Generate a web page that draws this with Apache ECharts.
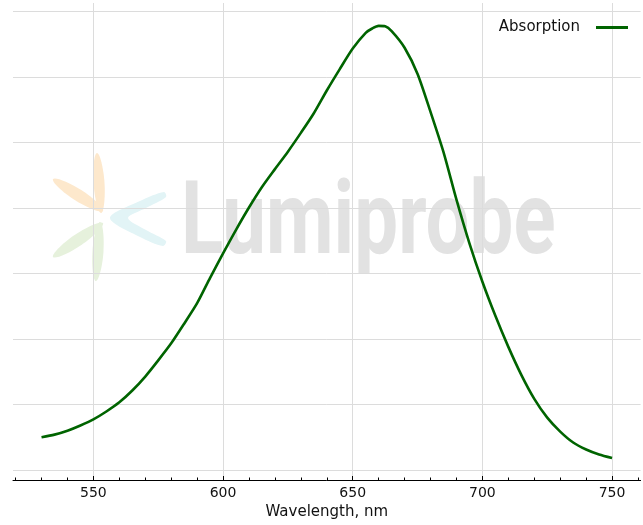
<!DOCTYPE html>
<html>
<head>
<meta charset="utf-8">
<script src="https://cdn.jsdelivr.net/npm/echarts@6/dist/echarts.min.js"></script>
<style>
html,body{margin:0;padding:0;background:#fff;}
#c{width:643px;height:525px;}
</style>
</head>
<body>
<div id="c"></div>
<script>
// Wavelength (nm)
const wavelengths = [530,535,540,545,550,555,560,565,570,575,580,585,590,595,600,605,610,615,620,625,630,635,640,645,650,655,657.5,660,662.5,665,670,675,680,685,690,695,700,705,710,715,720,725,730,735,740,745,750];
// Absorption (relative)
const absorption = [0.075,0.081,0.090,0.102,0.116,0.134,0.155,0.182,0.214,0.251,0.290,0.335,0.382,0.440,0.496,0.550,0.601,0.648,0.689,0.729,0.772,0.817,0.869,0.918,0.965,1.001,1.011,1.017,1.016,1.005,0.967,0.907,0.820,0.728,0.619,0.519,0.431,0.353,0.282,0.218,0.163,0.120,0.088,0.063,0.047,0.0355,0.0275];
const xMajorTicks = [550,600,650,700,750];
const xMinorTicks = [520,530,540,560,570,580,590,610,620,630,640,660,670,680,690,710,720,730,740,760];
const yGridValues = [0,0.15,0.30,0.45,0.60,0.75,0.90,1.05];
const seriesName = 'Absorption';
const xName = 'Wavelength, nm';

const points = wavelengths.map((w,i)=>[w,absorption[i]]);

function leaf(x1,y1,x2,y2,w){
  const mx=(x1+x2)/2, my=(y1+y2)/2;
  const dx=x2-x1, dy=y2-y1, L=Math.hypot(dx,dy);
  const nx=-dy/L*w/2, ny=dx/L*w/2;
  return [[x1,y1],[mx+nx,my+ny],[x2,y2],[mx-nx,my-ny]];
}
const petals = [
  {p:leaf(97,153,101,213,11), c:'#fde8cc', s:0.5},
  {p:leaf(53,179,103,211,12), c:'#fde8cc', s:0.5},
  {p:leaf(53,257,103,223,12), c:'#e6f1dc', s:0.5},
  {p:leaf(100,222,96,281,11), c:'#e6f1dc', s:0.5},
  {p:[[110,218],[140,201],[164,192],[166,197],[146,208],[128,218],[146,230],[166,241],[163,246],[140,237]], c:'#e2f4f6', s:0.3}
];

const chart = echarts.init(document.getElementById('c'));
chart.setOption({
  animation:false,
  backgroundColor:'#fff',
  textStyle:{fontFamily:'DejaVu Sans'},
  grid:{left:13,right:2.4,top:3,bottom:45,containLabel:false},
  graphic:[
    ...petals.map(pt=>({type:'polygon',z:-10,silent:true,shape:{points:pt.p,smooth:pt.s},style:{fill:pt.c}})),
    {type:'text',z:-10,silent:true,x:181,y:227.5,scaleX:0.765,scaleY:1,
     style:{text:'Lumiprobe',font:'bold 102px Roboto',fill:'#e2e2e2',verticalAlign:'middle',align:'left'}}
  ],
  legend:{
    right:10,top:15,align:'right',itemWidth:32,itemHeight:3,
    data:[{name:seriesName,icon:'rect'}],
    textStyle:{fontFamily:'DejaVu Sans',fontSize:15,color:'#111',padding:[0,11,0,0]}
  },
  xAxis:[{
    type:'value',min:519,max:761,
    name:xName,nameLocation:'middle',nameGap:24,
    nameTextStyle:{fontFamily:'DejaVu Sans',fontSize:15,color:'#111'},
    axisLine:{show:true,onZero:false,lineStyle:{color:'#000',width:1}},
    axisTick:{show:true,inside:true,length:4,customValues:xMajorTicks,lineStyle:{color:'#000'}},
    axisLabel:{show:true,customValues:xMajorTicks,margin:6,fontFamily:'DejaVu Sans',fontSize:14,color:'#111'},
    splitLine:{show:true,lineStyle:{color:'#dcdcdc',width:1}}
  },{
    type:'value',min:519,max:761,position:'bottom',
    axisLine:{show:false,onZero:false},
    axisTick:{show:true,inside:true,length:2.5,customValues:xMinorTicks,lineStyle:{color:'#000'}},
    axisLabel:{show:false,customValues:xMinorTicks},
    splitLine:{show:false}
  }],
  yAxis:{
    type:'value',min:-0.0229,max:1.0694,
    axisLine:{show:false},
    axisTick:{show:false,customValues:yGridValues},
    axisLabel:{show:false,customValues:yGridValues},
    splitLine:{show:true,lineStyle:{color:'#dcdcdc',width:1}}
  },
  series:[{
    name:seriesName,type:'line',data:points,xAxisIndex:0,
    symbol:'none',smooth:0.25,
    lineStyle:{color:'#006400',width:2.6},
    itemStyle:{color:'#006400'},
    z:3
  }]
});
</script>
</body>
</html>
